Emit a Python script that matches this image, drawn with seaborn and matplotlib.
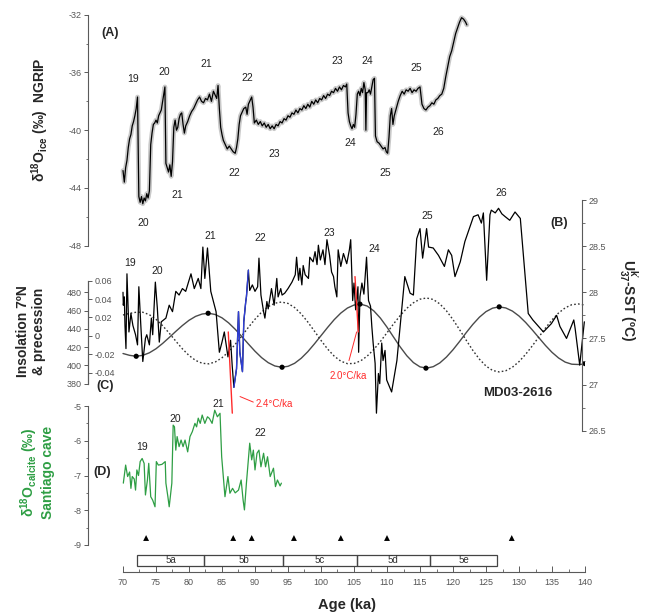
import numpy as np
import matplotlib
matplotlib.use("Agg")
import matplotlib.pyplot as plt
from matplotlib.patches import Rectangle
from matplotlib.ticker import MultipleLocator, FixedLocator
import seaborn as sns

# ---------------- data ----------------
# NGRIP ice-core d18O (permil)
ngrip_age = [
    70.0, 70.2, 70.4, 70.6, 70.8, 71.0, 71.2, 71.4, 71.6, 71.8,
    72.0, 72.2, 72.4, 72.6, 72.8, 73.0, 73.2, 73.4, 73.6, 73.8,
    74.0, 74.2, 74.4, 74.6, 74.8, 75.0, 75.2, 75.4, 75.6, 75.8,
    76.0, 76.2, 76.35, 76.5, 76.7, 76.9, 77.1, 77.3, 77.5, 77.7,
    77.9, 78.1, 78.3, 78.5, 78.7, 78.9, 79.1, 79.3, 79.5, 79.8,
    80.1, 80.4, 80.7, 81.0, 81.3, 81.6, 81.9, 82.2, 82.5, 82.8,
    83.1, 83.4, 83.7, 84.0, 84.2, 84.4, 84.6, 84.8, 85.0, 85.2,
    85.5, 85.8, 86.1, 86.4, 86.7, 87.0, 87.2, 87.4, 87.6, 87.8,
    88.0, 88.3, 88.6, 88.8, 89.0, 89.3, 89.5, 89.7, 89.9, 90.2,
    90.5, 90.8, 91.1, 91.4, 91.7, 92.0, 92.3, 92.6, 92.9, 93.2,
    93.5, 93.8, 94.1, 94.4, 94.7, 95.0, 95.3, 95.6, 95.9, 96.2,
    96.5, 96.8, 97.1, 97.4, 97.7, 98.0, 98.3, 98.6, 98.9, 99.2,
    99.5, 99.8, 100.1, 100.4, 100.7, 101.0, 101.3, 101.6, 101.9, 102.2,
    102.5, 102.8, 103.1, 103.4, 103.7, 103.9, 104.1, 104.3, 104.5, 104.7,
    104.9, 105.1, 105.3, 105.5, 105.7, 105.9, 106.1, 106.3, 106.5, 106.7,
    106.8, 106.9, 107.1, 107.3, 107.5, 107.7, 107.9, 108.1, 108.25, 108.5,
    108.8, 109.1, 109.4, 109.7, 109.9, 110.1, 110.3, 110.5, 110.7, 110.9,
    111.1, 111.4, 111.7, 112.0, 112.3, 112.6, 112.9, 113.2, 113.5, 113.8,
    114.1, 114.4, 114.7, 115.0, 115.3, 115.6, 115.9, 116.2, 116.5, 116.8,
    117.1, 117.4, 117.7, 118.0, 118.3, 118.6, 118.9, 119.2, 119.5, 119.8,
    120.1, 120.4, 120.7, 121.0, 121.3, 121.6, 121.9, 122.1,
]
ngrip_d18o = [
    -42.8, -43.6, -42.6, -42.1, -41.2, -40.6, -40.3, -39.7, -39.4, -39.0,
    -38.5, -37.7, -44.6, -45.0, -44.6, -45.1, -44.7, -44.9, -44.4, -44.7,
    -44.2, -41.0, -40.2, -39.6, -39.5, -39.3, -39.5, -39.0, -38.8, -38.6,
    -38.0, -37.4, -37.0, -42.3, -42.6, -42.9, -42.4, -43.2, -42.2, -39.8,
    -39.3, -40.0, -39.8, -39.2, -38.9, -38.8, -39.6, -40.2, -39.7, -39.4,
    -39.0, -38.7, -38.5, -38.2, -37.9, -37.7, -38.0, -38.1, -37.8, -37.9,
    -37.5, -38.0, -37.3, -37.6, -37.8, -36.9, -38.5, -39.8, -40.3, -40.7,
    -41.0, -41.3, -41.1, -41.3, -41.5, -41.6, -41.2, -40.6, -39.6, -39.0,
    -38.8, -38.5, -38.4, -38.9, -38.2, -37.9, -37.7, -38.4, -39.5, -39.3,
    -39.6, -39.4, -39.7, -39.5, -39.8, -39.6, -39.9, -39.7, -39.9, -39.6,
    -39.7, -39.4, -39.5, -39.2, -39.3, -39.0, -39.1, -38.8, -38.9, -38.6,
    -38.8, -38.5, -38.6, -38.3, -38.5, -38.2, -38.4, -38.0, -38.2, -37.9,
    -38.1, -37.8, -37.9, -37.6, -37.8, -37.5, -37.6, -37.3, -37.4, -37.1,
    -37.3, -37.0, -37.2, -36.9, -37.0, -36.8, -38.8, -39.4, -39.7, -39.9,
    -39.6, -39.8, -38.9, -37.5, -37.3, -37.6, -37.1, -37.4, -36.7, -37.2,
    -40.0, -37.4, -37.4, -37.2, -37.5, -37.0, -36.5, -36.4, -40.4, -40.8,
    -40.9, -41.1, -41.3, -41.2, -41.5, -41.6, -40.5, -39.0, -38.5, -39.6,
    -39.0, -38.5, -38.0, -37.6, -37.3, -37.5, -37.2, -37.3, -37.1, -37.4,
    -37.2, -37.3, -37.1, -37.0, -38.2, -38.5, -38.6, -38.4, -38.3, -38.1,
    -38.2, -37.9, -37.8, -37.6, -37.5, -37.1, -36.3, -35.6, -34.9, -34.5,
    -33.9, -33.3, -32.9, -32.5, -32.2, -32.3, -32.5, -32.7,
]

# MD03-2616 alkenone SST (degC)
sst_age = [
    70.0, 70.05, 70.2, 70.3, 70.45, 70.6, 70.9, 71.2, 71.5, 71.9,
    72.2, 72.4, 72.7, 73.0, 73.4, 73.6, 74.0, 74.3, 74.5, 74.9,
    75.2, 75.5, 75.8, 76.5, 77.0, 77.5, 78.0, 78.5, 79.0, 79.5,
    80.3, 80.8, 81.4, 81.8, 82.1, 82.4, 82.8, 83.3, 84.1, 84.6,
    85.0, 85.35, 85.9, 86.3, 86.55, 86.8, 87.2, 87.5, 87.7, 88.1,
    88.3, 88.6, 88.7, 89.0, 89.2, 89.6, 90.0, 90.4, 90.6, 90.9,
    91.3, 91.5, 91.8, 92.0, 92.5, 92.9, 93.3, 93.5, 93.9, 94.1,
    94.5, 95.0, 95.6, 96.1, 96.3, 96.6, 96.8, 97.1, 97.3, 97.6,
    98.1, 98.3, 98.8, 99.1, 99.4, 99.6, 99.9, 100.3, 100.6, 100.9,
    101.3, 101.6, 101.9, 102.1, 102.4, 102.6, 103.0, 103.4, 103.9, 104.3,
    104.5, 104.8, 105.0, 105.25, 105.6, 105.7, 105.9, 106.2, 106.5, 106.9,
    107.2, 107.5, 107.7, 107.9, 108.2, 108.4, 108.7, 108.9, 109.2, 109.4,
    109.7, 109.95, 110.7, 111.5, 112.7, 113.5, 114.0, 114.5, 115.0, 115.4,
    116.0, 116.3, 117.0, 117.8, 118.7, 119.3, 119.8, 120.3, 121.1, 121.8,
    123.1, 123.8, 124.3, 124.6, 125.1, 125.6, 125.8, 126.4, 126.9, 127.4,
    127.9, 128.6, 129.4, 130.2, 131.4, 132.1, 133.7, 134.9, 135.7, 136.2,
    137.2, 138.3, 138.5, 139.2, 139.9,
]
sst_val = [
    28.00, 27.86, 27.95, 27.64, 27.39, 28.20, 27.57, 27.77, 27.64, 27.54,
    27.43, 28.06, 27.64, 27.25, 27.50, 27.54, 27.43, 27.72, 27.54, 28.11,
    27.83, 27.46, 27.68, 27.72, 27.86, 27.79, 28.01, 27.97, 28.04, 28.01,
    28.20, 28.04, 28.15, 28.04, 28.49, 28.15, 28.48, 28.01, 27.79, 27.35,
    27.46, 27.57, 27.30, 27.48, 27.20, 26.97, 27.17, 27.79, 27.35, 27.14,
    27.68, 27.90, 27.95, 28.24, 28.02, 28.08, 28.01, 28.06, 28.37, 27.97,
    27.79, 27.72, 27.90, 27.82, 28.04, 27.86, 28.15, 27.95, 28.04, 27.97,
    27.99, 28.04, 28.11, 28.19, 28.38, 28.13, 28.26, 28.08, 28.29, 28.19,
    28.15, 28.38, 28.33, 28.44, 28.30, 28.51, 28.35, 28.46, 28.30, 28.57,
    28.40, 28.22, 28.17, 28.06, 27.95, 28.46, 28.28, 28.42, 28.31, 28.46,
    28.57, 27.91, 28.10, 27.81, 28.06, 27.35, 27.95, 28.10, 27.98, 28.38,
    27.91, 27.85, 27.63, 27.45, 27.23, 26.69, 27.12, 27.01, 27.45, 27.26,
    27.37, 27.05, 26.92, 27.26, 28.17, 27.99, 27.97, 28.58, 28.69, 28.37,
    28.69, 28.49, 28.48, 28.40, 28.28, 28.46, 28.40, 28.17, 28.33, 28.55,
    28.82, 28.84, 28.75, 28.86, 28.13, 28.84, 28.89, 28.86, 28.91, 28.85,
    28.82, 28.78, 28.87, 28.80, 27.77, 27.70, 27.57, 27.66, 27.75, 27.63,
    27.50, 27.70, 27.61, 27.21, 27.68,
]
# interval of rapid warming highlighted in blue
warm_start, warm_end = 86.8, 89.0
# cooling-rate segments and their labels
rate1_age = [85.95, 86.56]
rate1_sst = [27.57, 26.69]
rate2_age = [105.15, 105.65]
rate2_sst = [28.17, 27.57]
lead1_age = [87.73, 89.74]
lead1_sst = [26.87, 26.81]
lead2_age = [104.24, 105.4]
lead2_sst = [27.26, 27.57]
rate_labels = ["2.4°C/ka", "2.0°C/ka"]

# insolation 7N (W/m2) and precession index, 1-ka steps from 70 to 140 ka
orb_age = np.arange(70, 141)
insolation = [
    413.0, 411.0, 410.0, 411.0, 413.8, 418.2, 424.0, 430.5, 437.2, 443.6,
    449.3, 453.6, 456.2, 457.0, 455.6, 452.0, 446.5, 439.5, 431.6, 423.4,
    415.5, 408.5, 403.0, 399.4, 398.0, 399.0, 402.3, 407.8, 415.0, 423.5,
    432.5, 441.5, 450.0, 457.2, 462.7, 466.0, 467.0, 464.9, 459.6, 451.7,
    441.8, 430.9, 420.2, 410.6, 403.1, 398.4, 397.0, 398.6, 402.7, 409.1,
    417.1, 426.2, 435.8, 444.8, 452.7, 458.8, 462.6, 464.0, 462.8, 459.4,
    454.0, 447.0, 438.9, 430.4, 421.9, 414.3, 408.1, 403.6, 401.3, 401.0,
    401.5,
]
precession = [
    0.0227, 0.0245, 0.0257, 0.0257, 0.0230, 0.0180, 0.0111, 0.0030, -0.0057, -0.0141,
    -0.0213, -0.0267, -0.0298, -0.0304, -0.0283, -0.0238, -0.0173, -0.0092, -0.0001, 0.0093,
    0.0181, 0.0258, 0.0318, 0.0355, 0.0368, 0.0353, 0.0308, 0.0239, 0.0151, 0.0052,
    -0.0049, -0.0143, -0.0220, -0.0275, -0.0302, -0.0300, -0.0272, -0.0220, -0.0148, -0.0061,
    0.0034, 0.0131, 0.0221, 0.0300, 0.0360, 0.0399, 0.0412, 0.0396, 0.0348, 0.0273,
    0.0177, 0.0067, -0.0047, -0.0157, -0.0253, -0.0328, -0.0376, -0.0392, -0.0379, -0.0341,
    -0.0280, -0.0201, -0.0110, -0.0013, 0.0084, 0.0174, 0.0249, 0.0305, 0.0339, 0.0347,
    0.0335,
]
ins_peak_age = [72.0, 82.9, 94.1, 105.9, 115.9, 127.0, 140.0]
ins_peak_val = [410.0, 457.0, 398.0, 467.0, 397.0, 464.0, 402.0]

# Santiago cave speleothem d18O (permil)
cave_age = [
    70.05, 70.4, 70.7, 71.0, 71.2, 71.4, 71.7, 71.9, 72.1, 72.35,
    72.6, 72.9, 73.2, 73.4, 73.7, 73.9, 74.2, 74.5, 74.85, 75.05,
    75.35, 75.9, 76.4, 76.5, 76.8, 77.0, 77.4, 77.6, 77.8, 78.0,
    78.2, 78.5, 78.8, 79.1, 79.4, 79.8, 80.15, 80.5, 80.9, 81.15,
    81.4, 81.7, 82.0, 82.4, 82.8, 83.1, 83.5, 83.9, 84.3, 84.7,
    84.95, 85.45, 85.9, 86.2, 86.6, 87.0, 87.5, 87.9, 88.2, 88.4,
    88.7, 89.2, 89.5, 89.75, 90.0, 90.3, 90.6, 90.9, 91.3, 91.6,
    91.9, 92.3, 92.8, 93.1, 93.4, 93.8, 94.0,
]
cave_d18o = [
    -7.22, -6.70, -7.03, -6.90, -7.37, -7.03, -7.10, -7.42, -6.84, -7.00,
    -6.60, -6.51, -6.65, -7.56, -7.13, -6.65, -7.61, -7.71, -7.90, -6.60,
    -6.70, -6.68, -6.60, -7.22, -7.61, -7.90, -7.22, -5.55, -5.60, -6.27,
    -5.88, -6.17, -5.98, -6.17, -5.98, -6.32, -5.88, -5.74, -5.50, -5.60,
    -5.35, -5.50, -5.26, -5.50, -5.31, -5.36, -5.50, -5.12, -5.31, -5.21,
    -6.46, -7.61, -7.03, -7.51, -7.37, -7.50, -7.42, -7.13, -7.71, -7.99,
    -7.22, -6.07, -6.55, -6.27, -6.84, -6.36, -6.27, -6.75, -6.36, -6.75,
    -6.46, -7.03, -6.79, -7.32, -7.13, -7.30, -7.22,
]

# chronological tie points and marine isotope substages
tie_age = [73.5, 86.7, 89.5, 95.9, 103.0, 110.0, 128.9]
stage_edges = [72.1, 82.3, 94.2, 105.4, 116.5, 126.7]
stage_names = ["5a", "5b", "5c", "5d", "5e"]

# event numbers: (label, age, value)
ngrip_events = [("19", 71.5, -36.46), ("20", 76.2, -35.97), ("21", 82.6, -35.42),
                ("22", 88.9, -36.39), ("20", 73.0, -46.46), ("21", 78.3, -44.51),
                ("22", 86.8, -42.99), ("23", 92.9, -41.67), ("23", 102.4, -35.21),
                ("24", 107.0, -35.21), ("24", 104.5, -40.90), ("25", 114.5, -35.69),
                ("25", 109.7, -42.99), ("26", 117.7, -40.14)]
sst_events = [("19", 71.1, 28.32), ("20", 75.2, 28.23), ("21", 83.2, 28.61),
              ("22", 90.8, 28.59), ("23", 101.2, 28.64), ("24", 108.0, 28.47),
              ("25", 116.1, 28.83), ("26", 127.3, 29.08)]
cave_events = [("19", 72.9, -6.18), ("20", 77.9, -5.37), ("21", 84.4, -4.94),
               ("22", 90.8, -5.78)]

# ---------------- styling ----------------
sns.set_theme(style="ticks")
plt.rcParams["font.family"] = ["Liberation Sans", "DejaVu Sans"]
plt.rcParams["mathtext.fontset"] = "custom"
plt.rcParams["mathtext.rm"] = "Liberation Sans"
plt.rcParams["mathtext.bf"] = "Liberation Sans:bold"
plt.rcParams["mathtext.it"] = "Liberation Sans:italic"

W, H = 646, 613
X_LEFT, X_RIGHT = 88, 585          # pixel extent of every panel
X0 = 70 - (123 - X_LEFT) / 6.6     # age shown at the left edge
SPINE = "#5a5a5a"
TICKC = "#5a5a5a"
GREEN = "#2e9e44"
RED = "#ff2a2a"
BLUE = "#2f3fd8"

fig = plt.figure(figsize=(W / 100, H / 100), dpi=100)


def panel(top, bottom):
    ax = fig.add_axes([X_LEFT / W, 1 - bottom / H, (X_RIGHT - X_LEFT) / W, (bottom - top) / H])
    ax.set_facecolor("none")
    for s in ax.spines.values():
        s.set_visible(False)
        s.set_color(SPINE)
        s.set_linewidth(0.8)
    ax.grid(False)
    return ax


def finish(ax, ylim):
    ax.set_xlim(X0, 140)
    ax.set_ylim(*ylim)
    ax.set_xticks([])
    ax.set_xlabel("")
    ax.set_ylabel("")


def style_y(ax, side, major, minor=None, labels=None):
    ax.spines[side].set_visible(True)
    if side == "left":
        ax.yaxis.set_ticks_position("left")
    else:
        ax.yaxis.set_ticks_position("right")
    ax.set_yticks(major)
    if labels is not None:
        ax.set_yticklabels(labels)
    if minor is not None:
        ax.yaxis.set_minor_locator(MultipleLocator(minor))
    ax.tick_params(axis="y", which="major", direction="out", length=3.2, width=0.7,
                   color=TICKC, labelcolor="#555555", labelsize=6.5, pad=1.5)
    ax.tick_params(axis="y", which="minor", direction="out", length=1.8, width=0.6, color=TICKC)


def events(ax, items):
    for lab, a, v in items:
        ax.text(a, v, lab, ha="center", va="center", fontsize=7.5, color="#222222")


# ---- (A) NGRIP ----
ax_a = panel(14.8, 245.6)
sns.lineplot(x=ngrip_age, y=ngrip_d18o, ax=ax_a, color="#c9c9c9", lw=3.4,
             sort=False, estimator=None)
sns.lineplot(x=ngrip_age, y=ngrip_d18o, ax=ax_a, color="black", lw=0.9,
             sort=False, estimator=None)
finish(ax_a, (-48, -32))
style_y(ax_a, "left", [-48, -44, -40, -36, -32], 2, ["-48", "-44", "-40", "-36", "-32"])
events(ax_a, ngrip_events)

# ---- (C) insolation & precession ----
ax_c = panel(280.7, 383.7)
sns.lineplot(x=orb_age, y=insolation, ax=ax_c, color="#4a4a4a", lw=1.0,
             sort=False, estimator=None)
sns.scatterplot(x=ins_peak_age, y=ins_peak_val, ax=ax_c, color="black", s=14,
                edgecolor="none", zorder=5)
finish(ax_c, (380, 492.6))
style_y(ax_c, "left", [380, 400, 420, 440, 460, 480], None,
        ["380", "400", "420", "440", "460", "480"])

ax_p = panel(280.7, 383.7)
sns.lineplot(x=orb_age, y=precession, ax=ax_p, color="#333333", lw=1.0,
             linestyle=(0, (1.2, 1.6)), sort=False, estimator=None)
finish(ax_p, (-0.052, 0.06))
ax_p.spines["right"].set_position(("axes", 0))
style_y(ax_p, "right", [-0.04, -0.02, 0, 0.02, 0.04, 0.06], None,
        ["-0.04", "-0.02", "0", "0.02", "0.04", "0.06"])

# ---- (B) SST ----
ax_b = panel(200, 430.7)
sns.lineplot(x=sst_age, y=sst_val, ax=ax_b, color="black", lw=0.9,
             sort=False, estimator=None)
sst_age_arr = np.array(sst_age)
sst_val_arr = np.array(sst_val)
warm = (sst_age_arr >= warm_start) & (sst_age_arr <= warm_end)
sns.lineplot(x=sst_age_arr[warm], y=sst_val_arr[warm], ax=ax_b, color=BLUE, lw=1.0,
             sort=False, estimator=None)
sns.lineplot(x=rate1_age, y=rate1_sst, ax=ax_b, color=RED, lw=1.0, sort=False, estimator=None)
sns.lineplot(x=rate2_age, y=rate2_sst, ax=ax_b, color=RED, lw=1.0, sort=False, estimator=None)
sns.lineplot(x=lead1_age, y=lead1_sst, ax=ax_b, color=RED, lw=0.7, sort=False, estimator=None)
sns.lineplot(x=lead2_age, y=lead2_sst, ax=ax_b, color=RED, lw=0.7, sort=False, estimator=None)
finish(ax_b, (26.5, 29))
ax_b.spines["right"].set_position(("data", 139.55))
style_y(ax_b, "right", [26.5, 27, 27.5, 28, 28.5, 29], 0.25,
        ["26.5", "27", "27.5", "28", "28.5", "29"])
ax_b.text(lead1_age[1] + 0.3, lead1_sst[1] - 0.02, rate_labels[0], color=RED,
          fontsize=7, ha="left", va="center")
ax_b.text(lead2_age[0] - 0.1, lead2_sst[0] - 0.17, rate_labels[1], color=RED,
          fontsize=7, ha="center", va="center")
events(ax_b, sst_events)

# ---- (D) Santiago cave ----
ax_d = panel(406, 545)
sns.lineplot(x=cave_age, y=cave_d18o, ax=ax_d, color=GREEN, lw=0.9,
             sort=False, estimator=None)
finish(ax_d, (-9, -5))
style_y(ax_d, "left", [-9, -8, -7, -6, -5], 0.5, ["-9", "-8", "-7", "-6", "-5"])
events(ax_d, cave_events)

# tie-point triangles
ax_t = panel(532, 544)
sns.scatterplot(x=tie_age, y=[0.5] * len(tie_age), ax=ax_t, marker="^", color="black",
                s=18, edgecolor="none")
finish(ax_t, (0, 1))
ax_t.set_yticks([])

# ---- substage boxes and age axis ----
ax_x = panel(554, 572)
for i, name in enumerate(stage_names):
    a0, a1 = stage_edges[i], stage_edges[i + 1]
    ax_x.add_patch(Rectangle((a0, 0.333), a1 - a0, 0.611, fill=False,
                             edgecolor="#444444", lw=0.9))
    ax_x.text((a0 + a1) / 2, 0.64, name, ha="center", va="center", fontsize=7,
              color="#333333")
ax_x.set_xlim(X0, 140)
ax_x.set_ylim(0, 1)
ax_x.set_yticks([])
ax_x.spines["bottom"].set_visible(True)
ax_x.spines["bottom"].set_bounds(70, 140)
ax_x.set_xticks(list(range(70, 141, 5)))
ax_x.xaxis.set_minor_locator(FixedLocator(np.arange(72.5, 140, 5)))
ax_x.tick_params(axis="x", which="major", direction="in", length=4, width=0.7,
                 color=TICKC, labelcolor="#555555", labelsize=6.5, pad=4.5)
ax_x.tick_params(axis="x", which="minor", direction="in", length=2.2, width=0.6,
                 color=TICKC)
ax_x.set_xlabel("")


# ---- annotations in figure pixels ----
def fx(x):
    return x / W


def fy(y):
    return 1 - y / H


fig.text(fx(110), fy(33), "(A)", fontsize=9, fontweight="bold", ha="center", va="center")
fig.text(fx(559), fy(223), "(B)", fontsize=9, fontweight="bold", ha="center", va="center")
fig.text(fx(105), fy(386), "(C)", fontsize=9, fontweight="bold", ha="center", va="center")
fig.text(fx(102), fy(472), "(D)", fontsize=9, fontweight="bold", ha="center", va="center")
fig.text(fx(518), fy(393), "MD03-2616", fontsize=9.5, fontweight="bold",
         ha="center", va="center")

fig.text(fx(40), fy(120), r"δ$^{\mathbf{18}}$O$_{\mathbf{ice}}$ (‰)  NGRIP", rotation=90,
         fontsize=10, fontweight="bold", ha="center", va="center")
fig.text(fx(31), fy(331), "Insolation 7ºN\n& precession", rotation=90, fontsize=10,
         fontweight="bold", ha="center", va="center", linespacing=1.1)
fig.text(fx(628), fy(300), r"U$^{\mathbf{k'}}_{\mathbf{37}}$-SST (ºC)", rotation=270,
         fontsize=10, fontweight="bold", ha="center", va="center")
fig.text(fx(37), fy(472), "δ$^{\\mathbf{18}}$O$_{\\mathbf{calcite}}$ (‰)\nSantiago cave",
         rotation=90, fontsize=10, fontweight="bold", color=GREEN, ha="center",
         va="center", linespacing=1.1)
fig.text(fx(347), fy(605), "Age (ka)", fontsize=10.5, fontweight="bold",
         ha="center", va="center")

fig.savefig("out.png", dpi=100)
